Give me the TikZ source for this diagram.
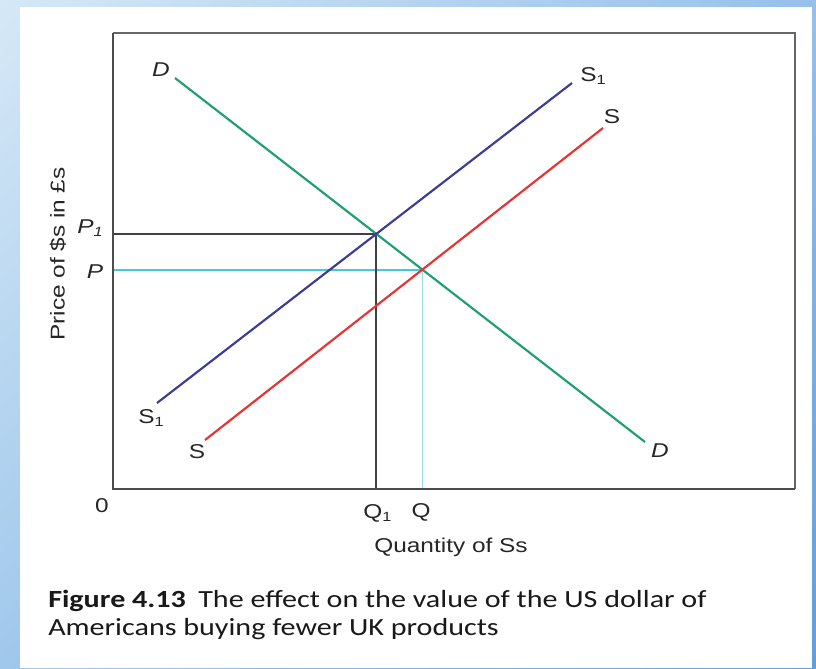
\documentclass[tikz,border=0pt]{standalone}
\usepackage{fontspec}
\usetikzlibrary{shadings}
\setmainfont{Liberation Sans}
\newfontfamily\chartfont[FakeStretch=1.22]{Liberation Sans}
\newfontfamily\capfont[FakeStretch=1.22]{Carlito}
\newcommand{\lsub}[1]{{\fontsize{10}{10}\selectfont\raisebox{-0.45ex}{#1}}}
\definecolor{bgUL}{RGB}{214,232,246}
\definecolor{bgUR}{RGB}{150,192,234}
\definecolor{bgLL}{RGB}{160,200,236}
\definecolor{bgLR}{RGB}{96,158,222}
\definecolor{cyanline}{RGB}{70,200,215}
\definecolor{cyanthin}{RGB}{150,215,235}
\definecolor{dgreen}{RGB}{30,160,110}
\definecolor{dblue}{RGB}{60,60,150}
\definecolor{dred}{RGB}{230,50,50}
\begin{document}
\begin{tikzpicture}[x=0.75pt,y=-0.75pt,
  axisline/.style={draw=black!70,line width=1.5pt},
  frameline/.style={draw=black!60,line width=1.2pt},
  curve/.style={line width=1.6pt},
  lbl/.style={font=\chartfont\fontsize{15}{17}\selectfont,inner sep=0pt,text=black!85},
  lbli/.style={lbl,font=\chartfont\itshape\fontsize{15}{17}\selectfont},
  captext/.style={font=\capfont\fontsize{18.5}{21}\selectfont,inner sep=0pt,anchor=base west,text=black!90}]
\useasboundingbox (0,0) rectangle (816,668);
% background
\shade[upper left=bgUL,upper right=bgUR,lower left=bgLL,lower right=bgLR]
  (0,0) rectangle (816,668);
\fill[white] (20,7) rectangle (812,668);
% axes frame
\coordinate (O) at (113,489);
\coordinate (TL) at (113,33);
\coordinate (TR) at (795,33);
\coordinate (BR) at (795,489);
\draw[frameline] (TL) -- (TR) -- (BR);
% curve endpoints
\coordinate (D0) at (175,78);
\coordinate (D1) at (645,442);
\coordinate (S10) at (157,403);
\coordinate (S11) at (572,83);
\coordinate (S0) at (205,440);
\coordinate (S1e) at (603,128);
% equilibria
\coordinate (E1) at (376,234);
\coordinate (E0) at (422,270);
\coordinate (P1y) at (113,234);
\coordinate (Py) at (113,270);
\coordinate (Q1x) at (376,489);
\coordinate (Qx) at (422,489);
% guide lines
\draw[line width=1pt,draw=cyanline] (Py) -- (E0);
\draw[line width=0.7pt,draw=cyanthin] (E0) -- (Qx);
\draw[line width=1.1pt,draw=black!75] (P1y) -- (E1) -- (Q1x);
% curves
\draw[curve,draw=dgreen] (D0) -- (D1);
\draw[curve,draw=dblue] (S10) -- (S11);
\draw[curve,draw=dred] (S0) -- (S1e);
% axes
\draw[axisline] (TL) -- (O) -- (BR);
% labels
\node[lbli] (lD0) at (161,70) {D};
\node[lbli] (lD1) at (660,451) {D};
\node[lbl,anchor=west] (lS11) at (580,76) {S\lsub{1}};
\node[lbl] (lS1e) at (612,117) {S};
\node[lbl,anchor=west] (lS10) at (138,418) {S\lsub{1}};
\node[lbl] (lS0) at (197,452) {S};
\node[lbl] (l0) at (102,506) {0};
\node[lbl,anchor=west] (lQ1) at (363,513) {Q\lsub{1}};
\node[lbl] (lQ) at (421,512) {Q};
\node[lbli,anchor=west] (lP1) at (77,228) {P\lsub{1}};
\node[lbli] (lP) at (95,272) {P};
\node[lbl,rotate=90] (ylab) at (58,254) {Price of \$s in £s};
\node[lbl] (xlab) at (451,547) {Quantity of Ss};
% caption
\node[captext] (cap1) at (48,607) {\textbf{Figure 4.13}\enspace The effect on the value of the US dollar of};
\node[captext] (cap2) at (48,635) {Americans buying fewer UK products};
\end{tikzpicture}
\end{document}
